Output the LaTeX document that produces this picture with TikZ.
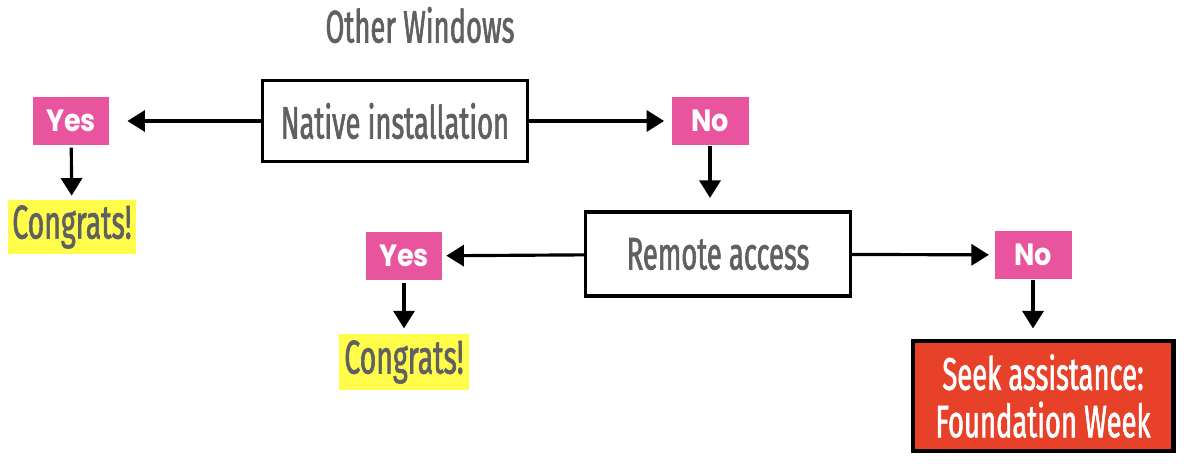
\documentclass[tikz,border=0pt]{standalone}
\usepackage{fontspec}
\usetikzlibrary{arrows.meta}
\newfontfamily\condfont[FakeStretch=0.6, FakeBold=1.3]{Fira Sans}
\newfontfamily\geofont[FakeStretch=0.88]{Poppins}
\definecolor{txtgray}{HTML}{5F6062}
\definecolor{answerpink}{HTML}{E8559E}
\definecolor{congratsyellow}{HTML}{FFFC4A}
\definecolor{helpred}{HTML}{E8412A}

\begin{document}
\begin{tikzpicture}[x=0.02cm, y=-0.02cm,
    question/.style={draw=black, line width=2pt, fill=white, text=txtgray,
        font=\condfont\fontsize{26}{28}\selectfont, minimum width=5.3cm, minimum height=1.62cm},
    answer/.style={fill=answerpink, text=white, font=\geofont\bfseries\fontsize{17.5}{20}\selectfont,
        minimum width=1.54cm, minimum height=0.98cm, inner sep=0pt},
    congrats/.style={fill=congratsyellow, text=txtgray, font=\condfont\fontsize{27}{28}\selectfont,
        minimum width=2.58cm, minimum height=1.1cm, inner sep=0pt},
    arr/.style={-{Triangle[length=10pt,width=12pt]}, line width=1.8pt}]
    \useasboundingbox (0,0) rectangle (1189,470);

    % titel
    \node[text=txtgray, font=\condfont\fontsize{26}{28}\selectfont] (title) at (420,25) {Other Windows};

    % eerste vraag
    \node[question] (native) at (395,121) {Native installation};
    \node[answer] (yes1) at (71,121) {Yes};
    \node[answer] (no1) at (710,121) {No};
    \node[congrats] (congrats1) at (72,227) {Congrats!};

    % tweede vraag
    \node[question, minimum height=1.68cm] (remote) at (718,254) {Remote access};
    \node[answer] (yes2) at (404,256) {Yes};
    \node[answer] (no2) at (1033,255) {No};
    \node[congrats, minimum width=2.62cm, minimum height=1.12cm] (congrats2) at (404,362) {Congrats!};

    % hulp zoeken
    \node[draw=black, line width=2.3pt, fill=helpred, text=white, align=center,
        font=\condfont\fontsize{26}{27}\selectfont, minimum width=5.22cm, minimum height=2.2cm]
        (help) at (1043,396) {Seek assistance:\\Foundation Week};

    % pijlen
    \draw[arr, shorten >=10pt] (native) -- (yes1);
    \draw[arr, shorten >=4pt] (native) -- (no1);
    \draw[arr, shorten <=1pt, shorten >=2pt] (yes1) -- (congrats1);
    \draw[arr, shorten >=7pt] (no1.south) -- (no1.south |- remote.north);
    \draw[arr, shorten >=2pt] (remote) -- (yes2);
    \draw[arr, shorten >=3pt] (remote) -- (no2);
    \draw[arr, shorten <=1pt, shorten >=3pt] (yes2) -- (congrats2);
    \draw[arr, shorten >=6pt] (no2) -- (no2 |- help.north);
\end{tikzpicture}
\end{document}
